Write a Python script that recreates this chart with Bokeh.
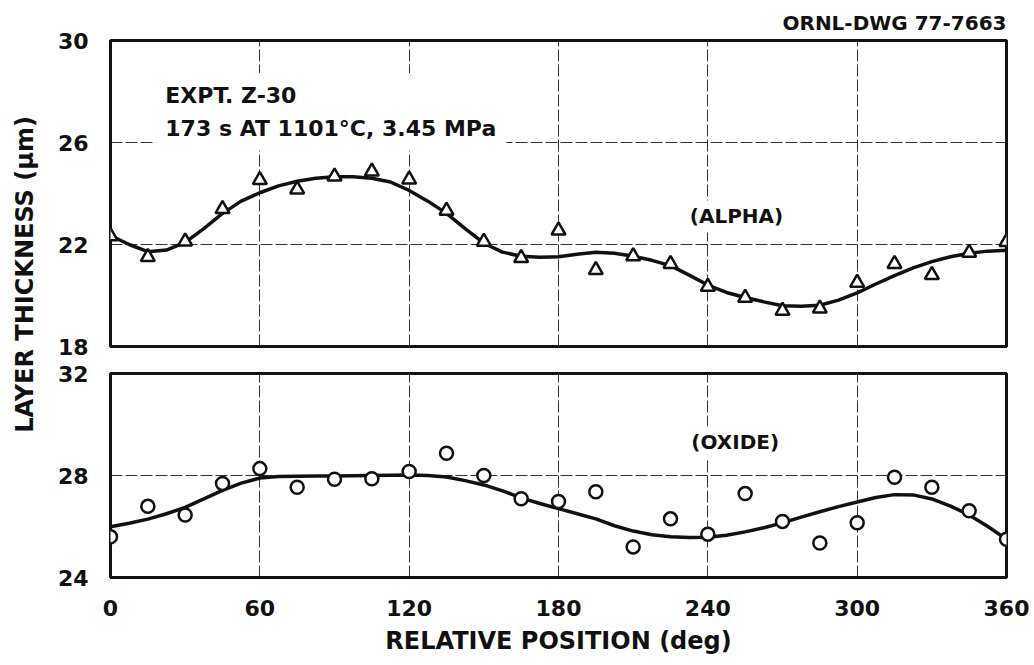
import math

from bokeh.core.properties import value
from bokeh.embed import file_html
from bokeh.layouts import column, row
from bokeh.models import FixedTicker, Label, Range1d
from bokeh.plotting import figure
from bokeh.resources import INLINE

# Measured layer thickness (um) around the cladding circumference
position_deg = [0, 15, 30, 45, 60, 75, 90, 105, 120, 135, 150, 165, 180,
                195, 210, 225, 240, 255, 270, 285, 300, 315, 330, 345, 360]
alpha_thickness = [22.33, 21.51, 22.12, 23.39, 24.53, 24.16, 24.67, 24.86, 24.55,
                   23.33, 22.11, 21.47, 22.55, 21.0, 21.54, 21.24, 20.34, 19.91,
                   19.4, 19.49, 20.5, 21.24, 20.81, 21.68, 22.1]
oxide_thickness = [25.6, 26.79, 26.45, 27.69, 28.27, 27.54, 27.85, 27.87, 28.16,
                   28.87, 28.0, 27.09, 26.98, 27.36, 25.2, 26.3, 25.7, 27.29,
                   26.2, 25.35, 26.15, 27.93, 27.54, 26.62, 25.5]

# Hand-drawn smoothing curves through the measurements
curve_deg = [0, 7.5, 15, 22.5, 30, 37.5, 45, 52.5, 60, 67.5, 75, 82.5, 90, 97.5,
             105, 112.5, 120, 127.5, 135, 142.5, 150, 157.5, 165, 172.5, 180,
             187.5, 195, 202.5, 210, 217.5, 225, 232.5, 240, 247.5, 255, 262.5,
             270, 277.5, 285, 292.5, 300, 307.5, 315, 322.5, 330, 337.5, 345,
             352.5, 360]
alpha_fit = [22.35, 22.0, 21.72, 21.78, 22.08, 22.62, 23.22, 23.7, 24.03, 24.3,
             24.48, 24.6, 24.66, 24.66, 24.6, 24.45, 24.12, 23.7, 23.22, 22.62,
             22.05, 21.7, 21.54, 21.5, 21.52, 21.62, 21.7, 21.66, 21.54, 21.38,
             21.17, 20.8, 20.41, 20.12, 19.92, 19.75, 19.6, 19.58, 19.62, 19.82,
             20.1, 20.45, 20.78, 21.08, 21.33, 21.52, 21.66, 21.74, 21.77]
oxide_fit = [25.99, 26.13, 26.29, 26.5, 26.75, 27.08, 27.42, 27.7, 27.9, 27.96,
             27.97, 27.98, 27.98, 27.99, 28.0, 28.01, 28.02, 28.0, 27.94, 27.8,
             27.63, 27.4, 27.12, 26.9, 26.7, 26.5, 26.3, 26.03, 25.82, 25.68,
             25.6, 25.57, 25.58, 25.66, 25.79, 25.95, 26.14, 26.37, 26.58, 26.78,
             26.96, 27.14, 27.25, 27.24, 27.08, 26.8, 26.45, 26.0, 25.5]

x_ticks = [0, 60, 120, 180, 240, 300, 360]
alpha_ticks = [18, 22, 26, 30]
oxide_ticks = [24, 28, 32]

FONT = "DejaVu Sans"
INK = "#111111"


def style_panel(p, yticks):
    p.yaxis.ticker = FixedTicker(ticks=yticks)
    p.yaxis.major_label_text_font = FONT
    p.yaxis.major_label_text_font_style = "bold"
    p.yaxis.major_label_text_font_size = "22px"
    p.yaxis.major_label_text_color = INK
    p.yaxis.major_label_standoff = 16
    p.axis.axis_line_color = None
    p.axis.major_tick_line_color = None
    p.axis.minor_tick_line_color = None
    p.xgrid.ticker = FixedTicker(ticks=x_ticks[1:-1])
    p.ygrid.ticker = FixedTicker(ticks=yticks[1:-1])
    p.grid.grid_line_color = INK
    p.grid.grid_line_alpha = 0.85
    p.grid.grid_line_width = 1
    p.grid.grid_line_dash = "12 3"
    p.outline_line_color = INK
    p.outline_line_width = 3
    p.background_fill_color = "white"
    p.border_fill_color = "white"


# Upper panel: alpha layer
top = figure(width=989, height=360, x_range=Range1d(0, 360), y_range=Range1d(18, 30),
             output_backend="svg", toolbar_location=None,
             min_border_left=65, min_border_right=28, min_border_top=40,
             min_border_bottom=14, title="ORNL-DWG 77-7663")
style_panel(top, alpha_ticks)
top.xaxis.visible = False
top.title.align = "right"
top.title.text_font = FONT
top.title.text_font_style = "bold"
top.title.text_font_size = "20px"
top.title.text_color = INK
top.title.standoff = 12

top.line(curve_deg, alpha_fit, line_color=INK, line_width=3.5)
top.scatter(position_deg, alpha_thickness, marker="triangle", size=14,
            fill_color="white", line_color=INK, line_width=2.5)

top.add_layout(Label(x=18, y=27.2, text="EXPT. Z-30\n173 s AT 1101°C, 3.45 MPa",
                     text_font=FONT, text_font_style="bold", text_font_size="22px",
                     text_color=INK, text_align="left", text_baseline="middle",
                     text_line_height=1.3, background_fill_color="white",
                     padding=10))
top.add_layout(Label(x=251.5, y=23.1, text="(ALPHA)", text_font=FONT,
                     text_font_style="bold", text_font_size="20px", text_color=INK,
                     text_align="center", text_baseline="middle",
                     background_fill_color="white", padding=4))

# Lower panel: oxide layer
bottom = figure(width=989, height=305, x_range=Range1d(0, 360), y_range=Range1d(24, 32),
                output_backend="svg", toolbar_location=None,
                min_border_left=65, min_border_right=28, min_border_top=13,
                min_border_bottom=88)
style_panel(bottom, oxide_ticks)
bottom.xaxis.ticker = FixedTicker(ticks=x_ticks)
bottom.xaxis.major_label_text_font = FONT
bottom.xaxis.major_label_text_font_style = "bold"
bottom.xaxis.major_label_text_font_size = "22px"
bottom.xaxis.major_label_text_color = INK
bottom.xaxis.major_label_standoff = 16
bottom.xaxis.axis_label = "RELATIVE POSITION (deg)"
bottom.xaxis.axis_label_text_font = FONT
bottom.xaxis.axis_label_text_font_style = "bold"
bottom.xaxis.axis_label_text_font_size = "24px"
bottom.xaxis.axis_label_text_color = INK
bottom.xaxis.axis_label_standoff = 8

bottom.line(curve_deg, oxide_fit, line_color=INK, line_width=3.5)
bottom.scatter(position_deg, oxide_thickness, marker="circle", size=13,
               fill_color="white", line_color=INK, line_width=2.5)

bottom.add_layout(Label(x=251, y=29.3, text="(OXIDE)", text_font=FONT,
                        text_font_style="bold", text_font_size="20px", text_color=INK,
                        text_align="center", text_baseline="middle",
                        background_fill_color="white", padding=4))

# Shared y-axis title spanning both panels
side = figure(width=45, height=665, x_range=Range1d(0, 45), y_range=Range1d(0, 665),
              output_backend="svg", toolbar_location=None, min_border=0)
side.xaxis.visible = False
side.yaxis.visible = False
side.grid.visible = False
side.outline_line_color = None
side.add_layout(Label(x=24, y=391, text="LAYER THICKNESS (μm)", angle=math.pi / 2,
                      text_font=FONT, text_font_style="bold", text_font_size="24px",
                      text_color=INK, text_align="center", text_baseline="middle"))

layout = row(side, column(top, bottom))

with open("out.html", "w") as f:
    f.write(file_html(layout, INLINE))
